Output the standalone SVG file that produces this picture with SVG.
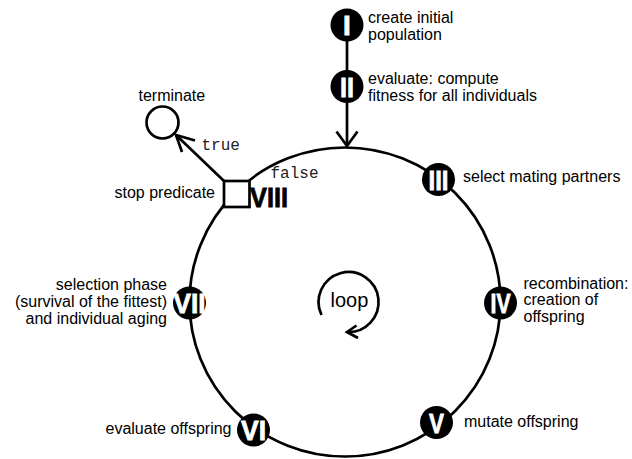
<svg xmlns="http://www.w3.org/2000/svg" width="632" height="459" viewBox="0 0 632 459">
  <style>
    .lbl { font-family: "Liberation Sans", Arial, sans-serif; font-size: 16px; fill: #000; }
    .mono { font-family: "Liberation Mono", "Courier New", monospace; font-size: 16px; fill: #222; }
    .num { font-family: "Liberation Sans", Arial, sans-serif; font-weight: bold; font-size: 28px; fill: #fff; stroke: #fff; stroke-width: 0.8; text-anchor: middle; }
    .dot { fill: #000; }
    .edge { fill: none; stroke: #000; stroke-width: 2.7; }
    .head { fill: none; stroke: #000; stroke-width: 2.7; stroke-linejoin: miter; }
  </style>

  <g id="connectors">
    <!-- main cycle -->
    <ellipse class="edge" cx="345" cy="302" rx="155.5" ry="154.5"/>
    <!-- initialisation path into the cycle -->
    <line class="edge" x1="347" y1="25" x2="347" y2="145"/>
    <polyline class="head" points="336.5,131.5 347,146 357.5,131.5"/>
    <!-- true branch to terminate -->
    <line class="edge" x1="224" y1="181" x2="176" y2="135"/>
    <polyline class="head" points="195,140.5 176,135 182,152"/>
    <text class="mono" x="201.5" y="150">true</text>
    <text class="mono" x="270.5" y="178">false</text>
    <!-- loop marker -->
    <path class="edge" d="M 321.5 315 A 30 30 0 1 1 347 332"/>
    <polyline class="head" points="356.5,325.5 347,332 358,338"/>
    <text class="lbl" x="330.5" y="306.5" style="font-size:20px">loop</text>
  </g>

  <g id="n1">
    <circle class="dot" cx="347" cy="25" r="16.5"/>
    <text class="num" x="347" y="35">I</text>
    <text class="lbl" x="368" y="22.5">create initial</text>
    <text class="lbl" x="368" y="39.5">population</text>
  </g>

  <g id="n2">
    <circle class="dot" cx="347" cy="86.5" r="16.5"/>
    <text class="num" x="347" y="96.5" textLength="14" lengthAdjust="spacingAndGlyphs">II</text>
    <text class="lbl" x="368" y="84">evaluate: compute</text>
    <text class="lbl" x="368" y="100.5">fitness for all individuals</text>
  </g>

  <g id="n3">
    <circle class="dot" cx="438.5" cy="179.5" r="16.5"/>
    <text class="num" x="438.5" y="189.5" textLength="20" lengthAdjust="spacingAndGlyphs">III</text>
    <text class="lbl" x="463" y="182">select mating partners</text>
  </g>

  <g id="n4">
    <circle class="dot" cx="500.5" cy="303" r="16.5"/>
    <text class="num" x="500.5" y="313" textLength="20" lengthAdjust="spacingAndGlyphs">IV</text>
    <text class="lbl" x="523.5" y="288.5">recombination:</text>
    <text class="lbl" x="523.5" y="305">creation of</text>
    <text class="lbl" x="523.5" y="321.5">offspring</text>
  </g>

  <g id="n5">
    <circle class="dot" cx="436.5" cy="422.5" r="16.5"/>
    <text class="num" x="436.5" y="432.5" textLength="15" lengthAdjust="spacingAndGlyphs">V</text>
    <text class="lbl" x="464" y="427">mutate offspring</text>
  </g>

  <g id="n6">
    <circle class="dot" cx="253.5" cy="430" r="16.5"/>
    <text class="num" x="253.5" y="440" textLength="25" lengthAdjust="spacingAndGlyphs">VI</text>
    <text class="lbl" x="231.5" y="433.5" text-anchor="end">evaluate offspring</text>
  </g>

  <g id="n7">
    <circle class="dot" cx="189.5" cy="303" r="16.5"/>
    <text class="num" x="189.5" y="313" textLength="32" lengthAdjust="spacingAndGlyphs">VII</text>
    <text class="lbl" x="167" y="289.5" text-anchor="end">selection phase</text>
    <text class="lbl" x="167" y="306.5" text-anchor="end">(survival of the fittest)</text>
    <text class="lbl" x="167" y="323.5" text-anchor="end">and individual aging</text>
  </g>

  <g id="n8">
    <rect x="224" y="181" width="25.5" height="26" fill="#fff" stroke="#000" stroke-width="2.7"/>
    <text x="250" y="207" textLength="38" lengthAdjust="spacingAndGlyphs" style="font-family:'Liberation Sans',Arial,sans-serif;font-weight:bold;font-size:28px;fill:#000;stroke:#000;stroke-width:0.8">VIII</text>
    <text class="lbl" x="215" y="197.5" text-anchor="end">stop predicate</text>
  </g>

  <g id="terminate">
    <circle cx="162.5" cy="122.5" r="16" fill="#fff" stroke="#000" stroke-width="2.7"/>
    <text class="lbl" x="138.5" y="100.5">terminate</text>
  </g>
</svg>
